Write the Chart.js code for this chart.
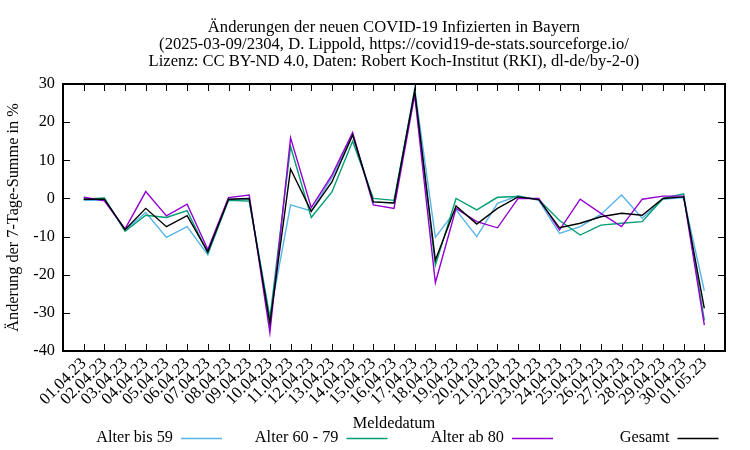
<!DOCTYPE html>
<html>
<head>
<meta charset="utf-8">
<script src="https://cdn.jsdelivr.net/npm/chart.js@4"></script>
<style>
  html, body { margin: 0; padding: 0; background: #fff; }
  #wrap { width: 750px; height: 450px; }
</style>
</head>
<body>
<div id="wrap"><canvas id="c" width="750" height="450"></canvas></div>
<script>
const titleLines = [
  "Änderungen der neuen COVID-19 Infizierten in Bayern",
  "(2025-03-09/2304, D. Lippold, https://covid19-de-stats.sourceforge.io/",
  "Lizenz: CC BY-ND 4.0, Daten: Robert Koch-Institut (RKI), dl-de/by-2-0)"
];
const yAxisTitle = "Änderung der 7-Tage-Summe in %";
const xAxisTitle = "Meldedatum";
const categories = [
  "01.04.23","02.04.23","03.04.23","04.04.23","05.04.23","06.04.23","07.04.23","08.04.23",
  "09.04.23","10.04.23","11.04.23","12.04.23","13.04.23","14.04.23","15.04.23","16.04.23",
  "17.04.23","18.04.23","19.04.23","20.04.23","21.04.23","22.04.23","23.04.23","24.04.23",
  "25.04.23","26.04.23","27.04.23","28.04.23","29.04.23","30.04.23","01.05.23"
];
const seriesNames = ["Alter bis 59", "Alter 60 - 79", "Alter ab 80", "Gesamt"];
const alterBis59 = [-0.5,-0.4,-8.3,-3.7,-10.2,-7.4,-14.8,-0.3,-0.3,-31.0,-1.7,-3.3,5.5,16.9,-0.9,-1.2,28.9,-10.2,-3.0,-10.0,-1.3,0.7,-0.5,-9.2,-7.4,-4.2,0.9,-5.2,-0.2,0.2,-24.2];
const alter60bis79 = [-0.2,0.1,-8.6,-4.4,-5.0,-3.2,-14.4,-0.5,-0.7,-31.6,13.6,-5.0,1.7,15.0,0.0,-0.5,28.0,-17.5,0.0,-3.0,0.3,0.5,-0.3,-5.8,-9.6,-7.0,-6.5,-6.1,0.0,1.2,-32.0];
const alterAb80 = [0.3,-0.6,-8.0,1.8,-4.6,-1.5,-13.4,0.2,0.9,-35.2,15.9,-2.4,6.1,17.3,-1.7,-2.6,27.1,-22.1,-2.6,-6.1,-7.7,0.0,0.0,-8.3,-0.2,-3.9,-7.4,-0.2,0.6,0.6,-33.2];
const gesamt = [-0.2,-0.2,-8.2,-2.6,-7.4,-4.5,-14.0,-0.2,0.0,-32.8,7.7,-3.4,4.3,16.6,-0.9,-1.2,28.2,-16.2,-2.0,-6.7,-2.6,0.4,-0.3,-7.7,-6.5,-4.8,-3.9,-4.4,0.0,0.4,-28.8];
const yTicks = [-40,-30,-20,-10,0,10,20,30];
const colors = ["#56b4e9", "#009e73", "#9400d3", "#000000"];

const FONT = "'Liberation Serif', 'Times New Roman', serif";
const allSeries = [alterBis59, alter60bis79, alterAb80, gesamt];

const datasets = allSeries.map((arr, k) => ({
  label: seriesNames[k],
  data: arr.map((v, i) => ({ x: i, y: v })),
  borderColor: colors[k],
  backgroundColor: colors[k],
  borderWidth: 1.4,
  pointRadius: 0,
  tension: 0,
  fill: false,
  order: 4 - k
}));

const framePlugin = {
  id: 'frame',
  afterDraw(chart) {
    const ctx = chart.ctx;
    const a = chart.chartArea;
    const xs = chart.scales.x, ys = chart.scales.y;
    ctx.save();
    ctx.strokeStyle = '#000';
    ctx.lineWidth = 1;
    const tl = 7;
    ctx.beginPath();
    yTicks.forEach(v => {
      const py = Math.round(ys.getPixelForValue(v)) + 0.5;
      ctx.moveTo(a.left, py); ctx.lineTo(a.left + tl, py);
      ctx.moveTo(a.right, py); ctx.lineTo(a.right - tl, py);
    });
    categories.forEach((c, i) => {
      const px = Math.round(xs.getPixelForValue(i)) + 0.5;
      ctx.moveTo(px, a.bottom); ctx.lineTo(px, a.bottom - tl);
      ctx.moveTo(px, a.top); ctx.lineTo(px, a.top + tl);
    });
    ctx.stroke();
    ctx.lineWidth = 2;
    ctx.strokeRect(a.left, a.top, a.right - a.left, a.bottom - a.top);

    // title
    ctx.fillStyle = '#000';
    ctx.font = "16.6px " + FONT;
    ctx.textAlign = 'center';
    ctx.textBaseline = 'alphabetic';
    const cx = (a.left + a.right) / 2;
    titleLines.forEach((t, i) => ctx.fillText(t, cx, 31.5 + i * 17));

    // legend
    ctx.font = "16.3px " + FONT;
    const ly = 438;
    seriesNames.forEach((n, k) => {
      const lineEnd = 222 + k * 165.5;
      const lineStart = lineEnd - 41;
      ctx.textAlign = 'right';
      ctx.textBaseline = 'middle';
      ctx.fillStyle = '#000';
      ctx.fillText(n, lineStart - 8, ly);
      ctx.strokeStyle = colors[k];
      ctx.lineWidth = 1.4;
      ctx.beginPath();
      ctx.moveTo(lineStart, ly + 0.5); ctx.lineTo(lineEnd, ly + 0.5);
      ctx.stroke();
    });
    ctx.restore();
  }
};

new Chart(document.getElementById('c'), {
  type: 'line',
  data: { datasets },
  options: {
    responsive: false,
    animation: false,
    devicePixelRatio: 1,
    layout: { padding: { top: 84, right: 25, bottom: 12, left: 0 } },
    plugins: { legend: { display: false }, tooltip: { enabled: false }, title: { display: false } },
    scales: {
      x: {
        type: 'linear',
        min: -1,
        max: categories.length,
        grid: { display: false, drawTicks: false },
        border: { display: false },
        afterBuildTicks(scale) {
          scale.ticks = categories.map((c, i) => ({ value: i }));
        },
        afterFit(scale) { scale.height = 87; },
        ticks: {
          autoSkip: false,
          minRotation: 45,
          maxRotation: 45,
          padding: 3,
          color: '#000',
          font: { family: FONT, size: 16.6 },
          callback: (v) => categories[v] !== undefined ? categories[v] : ''
        },
        title: {
          display: true, text: xAxisTitle, color: '#000',
          font: { family: FONT, size: 16.3 }, padding: { top: 0, bottom: 4 }
        }
      },
      y: {
        min: -40,
        max: 30,
        grid: { display: false, drawTicks: false },
        border: { display: false },
        afterBuildTicks(scale) {
          scale.ticks = yTicks.map(v => ({ value: v }));
        },
        afterFit(scale) { scale.width = 63; },
        ticks: {
          padding: 8,
          color: '#000',
          font: { family: FONT, size: 16.3 }
        },
        title: {
          display: true, text: yAxisTitle, color: '#000',
          font: { family: FONT, size: 16.3 }, padding: { top: 4, bottom: 0 }
        }
      }
    }
  },
  plugins: [framePlugin]
});
</script>
</body>
</html>
